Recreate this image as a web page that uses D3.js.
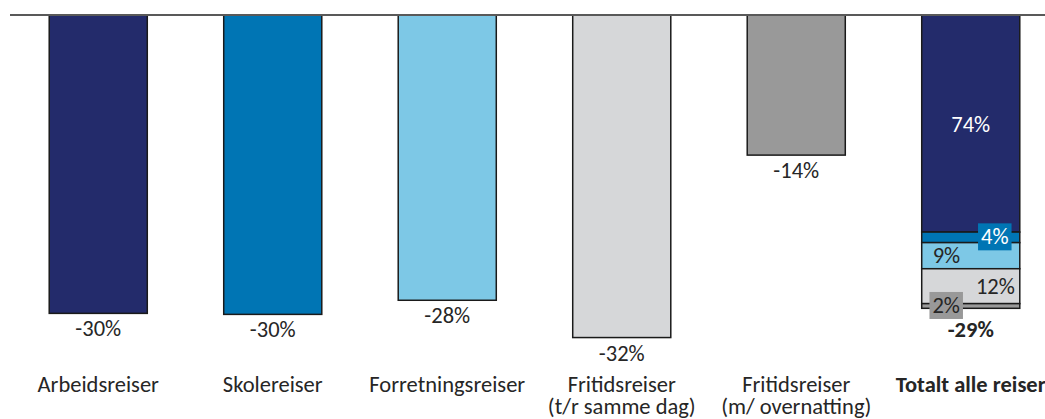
<!DOCTYPE html>
<html><head><meta charset="utf-8">
<script src="https://cdn.jsdelivr.net/npm/d3@7"></script>
<style>html,body{margin:0;padding:0;background:#fff;overflow:hidden}</style>
</head><body><div id="chart"></div>
<script>
const categories = ["Arbeidsreiser","Skolereiser","Forretningsreiser","Fritidsreiser (t/r samme dag)","Fritidsreiser (m/ overnatting)","Totalt alle reiser"];
const categoryLines = [["Arbeidsreiser"],["Skolereiser"],["Forretningsreiser"],["Fritidsreiser","(t/r samme dag)"],["Fritidsreiser","(m/ overnatting)"],["Totalt alle reiser"]];
const changes = [-29.6, -29.7, -28.3, -32.0, -13.9, -29.1];
const totalShares = [74, 3.6, 8.9, 11.9, 1.6];
const colors = ["#232b6b","#0075b4","#7dc8e6","#d6d7d9","#999999"];

const W = 1045, H = 419;
const FONT = "Carlito, Lato, sans-serif";
const TXT = "#262626";
const FS = 22.5;
const svg = d3.select("#chart").append("svg").attr("width", W).attr("height", H)
  .style("font-family", FONT);

const x = d3.scaleBand().domain(categories).range([11, 1058]).paddingInner(0.438).paddingOuter(0.219);
const y = d3.scaleLinear().domain([0, -40]).range([15, 418.2]);

// single bars
const singles = categories.slice(0, 5);
svg.selectAll("rect.bar").data(singles).join("rect").attr("class","bar")
  .attr("x", d => x(d)).attr("width", x.bandwidth())
  .attr("y", y(0)).attr("height", (d,i) => y(changes[i]) - y(0))
  .attr("fill", (d,i) => colors[i]).attr("stroke", "#1a1a1a").attr("stroke-width", 1.5);

// stacked total bar
const total = changes[5];
let acc = 0;
const segs = totalShares.map((s, i) => {
  const v0 = acc; acc += s * total / 100;
  return {i, s, v0, v1: acc};
});
const tc = categories[5];
svg.selectAll("rect.seg").data(segs).join("rect").attr("class","seg")
  .attr("x", x(tc)).attr("width", x.bandwidth())
  .attr("y", d => y(d.v0)).attr("height", d => y(d.v1) - y(d.v0))
  .attr("fill", d => colors[d.i]).attr("stroke", "#1a1a1a").attr("stroke-width", 1.5);

// baseline
svg.append("line").attr("x1", 10).attr("x2", W).attr("y1", y(0)).attr("y2", y(0))
  .attr("stroke", "#595959").attr("stroke-width", 2);

// value labels
const fmt = v => `${Math.round(v)}%`;
svg.selectAll("text.val").data(categories).join("text").attr("class","val")
  .attr("x", d => x(d) + x.bandwidth()/2)
  .attr("y", (d,i) => y(changes[i]) + (i === 5 ? 29 : 23))
  .attr("text-anchor", "middle").attr("font-size", FS)
  .attr("font-weight", (d,i) => i === 5 ? "bold" : "normal")
  .attr("fill", TXT).text((d,i) => fmt(changes[i]));

// segment labels
const bl = x(tc), br = x(tc) + x.bandwidth(), bc = bl + x.bandwidth()/2;
const segCfg = [
  {x: bc, anchor: "middle", fill: "#fff", box: null, dy: 8},
  {x: br - 25, anchor: "middle", fill: "#fff", box: colors[1], dy: 7},
  {x: bl + 11, anchor: "start", fill: TXT, box: null, dy: 7.5},
  {x: br - 5, anchor: "end", fill: TXT, box: null, dy: 7.5},
  {x: bl + 24.5, anchor: "middle", fill: TXT, box: colors[4], dy: 7}
];
segs.forEach(d => {
  const c = segCfg[d.i];
  const mid = (y(d.v0) + y(d.v1)) / 2;
  const g = svg.append("g");
  const t = g.append("text").attr("x", c.x).attr("y", mid + c.dy)
    .attr("text-anchor", c.anchor).attr("font-size", FS).attr("fill", c.fill)
    .text(`${Math.round(d.s)}%`);
  if (c.box) {
    const bb = t.node().getBBox();
    g.insert("rect", "text").attr("x", bb.x - 3).attr("y", bb.y)
      .attr("width", bb.width + 6).attr("height", bb.height).attr("fill", c.box);
  }
});

// category labels
categories.forEach((c, i) => {
  const t = svg.append("text").attr("x", x(c) + x.bandwidth()/2).attr("y", 392)
    .attr("text-anchor", "middle").attr("font-size", FS).attr("fill", TXT)
    .attr("font-weight", i === 5 ? "bold" : "normal");
  categoryLines[i].forEach((line, j) => {
    t.append("tspan").attr("x", x(c) + x.bandwidth()/2).attr("dy", j === 0 ? 0 : 22).text(line);
  });
});
</script></body></html>
